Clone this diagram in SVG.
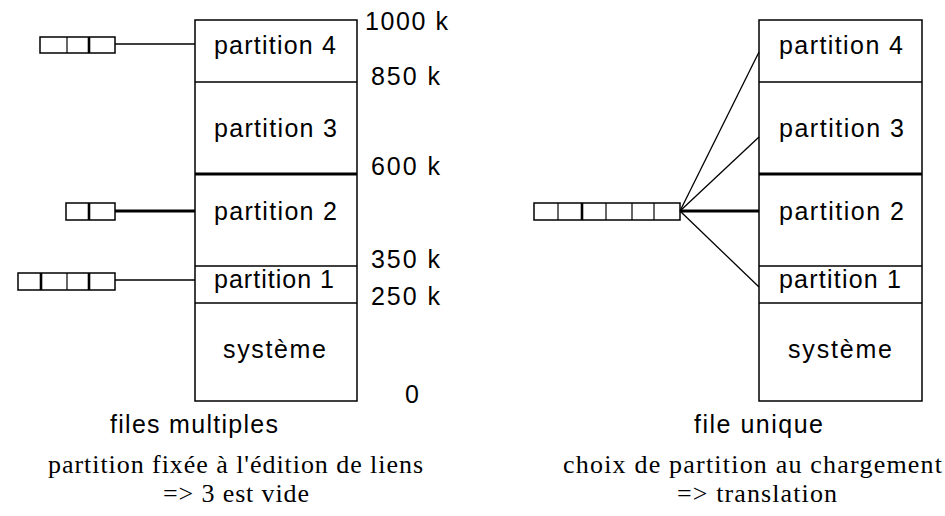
<svg xmlns="http://www.w3.org/2000/svg" width="945" height="516" viewBox="0 0 945 516">
  <style>
    .box { fill: #fff; stroke: #000; stroke-width: 1.5; }
    .sep { stroke: #000; stroke-width: 1.5; }
    .sep-thick { stroke: #000; stroke-width: 3; }
    .cell { fill: #fff; stroke: #000; stroke-width: 1.5; }
    .div { stroke: #000; stroke-width: 1.2; }
    .div-thick { stroke: #000; stroke-width: 2.6; }
    .link { stroke: #000; stroke-width: 1.3; fill: none; }
    .link-thick { stroke: #000; stroke-width: 3; fill: none; }
    .sans { font-family: "Liberation Sans", Arial, sans-serif; font-size: 25px; fill: #000; }
    .serif { font-family: "Liberation Serif", "Times New Roman", serif; font-size: 26px; fill: #000; }
  </style>
  <rect width="945" height="516" fill="#fff"/>

  <!-- Left: fixed partitions, one queue per partition -->
  <g id="memory-left">
    <rect class="box" x="195" y="20" width="162" height="381"/>
    <line class="sep" x1="195" y1="82" x2="357" y2="82"/>
    <line class="sep-thick" x1="195" y1="174" x2="357" y2="174"/>
    <line class="sep" x1="195" y1="266" x2="357" y2="266"/>
    <line class="sep" x1="195" y1="303" x2="357" y2="303"/>
    <text class="sans" x="214" y="54" textLength="122">partition 4</text>
    <text class="sans" x="214" y="137" textLength="123">partition 3</text>
    <text class="sans" x="214" y="220" textLength="123">partition 2</text>
    <text class="sans" x="214" y="288" textLength="120">partition 1</text>
    <text class="sans" x="223" y="358" textLength="103">système</text>
  </g>

  <g id="addresses-left">
    <text class="sans" x="365" y="30" textLength="83">1000 k</text>
    <text class="sans" x="371" y="85" textLength="69">850 k</text>
    <text class="sans" x="371" y="175" textLength="69">600 k</text>
    <text class="sans" x="371" y="268" textLength="69">350 k</text>
    <text class="sans" x="371" y="305" textLength="69">250 k</text>
    <text class="sans" x="405" y="403">0</text>
  </g>

  <g id="queue-4">
    <rect class="cell" x="40" y="37" width="75" height="16"/>
    <line class="div" x1="67" y1="37" x2="67" y2="53"/>
    <line class="div-thick" x1="89" y1="37" x2="89" y2="53"/>
  </g>
  <g id="queue-2">
    <rect class="cell" x="66" y="203" width="49" height="17"/>
    <line class="div-thick" x1="89" y1="203" x2="89" y2="220"/>
  </g>
  <g id="queue-1">
    <rect class="cell" x="18" y="273" width="97" height="17"/>
    <line class="div-thick" x1="41" y1="273" x2="41" y2="290"/>
    <line class="div" x1="67" y1="273" x2="67" y2="290"/>
    <line class="div-thick" x1="89" y1="273" x2="89" y2="290"/>
  </g>

  <g id="captions-left">
    <text class="sans" x="110" y="433" textLength="168">files multiples</text>
    <text class="serif" x="48" y="473" textLength="375">partition fixée à l'édition de liens</text>
    <text class="serif" x="163" y="502" textLength="146">=&gt; 3 est vide</text>
  </g>

  <!-- Right: fixed partitions, single shared queue -->
  <g id="memory-right">
    <rect class="box" x="759" y="20" width="163" height="381"/>
    <line class="sep" x1="759" y1="82" x2="922" y2="82"/>
    <line class="sep-thick" x1="759" y1="174" x2="922" y2="174"/>
    <line class="sep" x1="759" y1="266" x2="922" y2="266"/>
    <line class="sep" x1="759" y1="303" x2="922" y2="303"/>
    <text class="sans" x="779" y="54" textLength="124">partition 4</text>
    <text class="sans" x="779" y="137" textLength="125">partition 3</text>
    <text class="sans" x="779" y="220" textLength="125">partition 2</text>
    <text class="sans" x="779" y="288" textLength="122">partition 1</text>
    <text class="sans" x="788" y="358" textLength="104">système</text>
  </g>

  <g id="queue-single">
    <rect class="cell" x="534" y="203" width="146" height="17"/>
    <line class="div" x1="558" y1="203" x2="558" y2="220"/>
    <line class="div-thick" x1="582" y1="203" x2="582" y2="220"/>
    <line class="div" x1="606" y1="203" x2="606" y2="220"/>
    <line class="div" x1="632" y1="203" x2="632" y2="220"/>
    <line class="div" x1="654" y1="203" x2="654" y2="220"/>
  </g>

  <g id="captions-right">
    <text class="sans" x="694" y="433" textLength="129">file unique</text>
    <text class="serif" x="563" y="473" textLength="379">choix de partition au chargement</text>
    <text class="serif" x="677" y="502" textLength="160">=&gt; translation</text>
  </g>

  <!-- Connectors -->
  <g id="connectors">
    <line class="link" x1="115" y1="44" x2="195" y2="44"/>
    <line class="link-thick" x1="115" y1="211" x2="195" y2="211"/>
    <line class="link" x1="115" y1="280" x2="195" y2="280"/>
    <line class="link" x1="680" y1="211" x2="759" y2="52"/>
    <line class="link" x1="680" y1="211" x2="759" y2="137"/>
    <line class="link-thick" x1="680" y1="211" x2="759" y2="211"/>
    <line class="link" x1="680" y1="211" x2="759" y2="287"/>
  </g>
</svg>
